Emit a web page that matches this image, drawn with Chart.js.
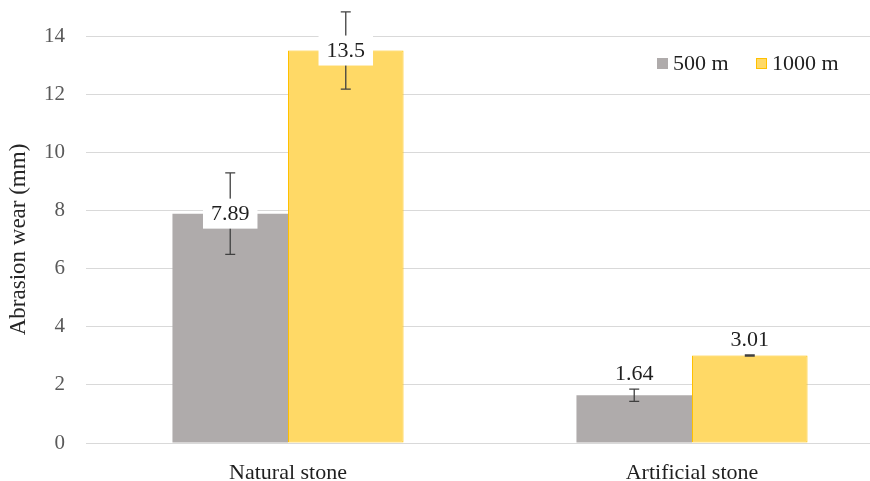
<!DOCTYPE html>
<html>
<head>
<meta charset="utf-8">
<script src="https://cdn.jsdelivr.net/npm/chart.js@4.4.1/dist/chart.umd.min.js"></script>
<style>
  html, body { margin: 0; padding: 0; background: #fff; overflow: hidden; }
  #wrap { width: 900px; height: 481px; }
</style>
</head>
<body>
<div id="wrap"><canvas id="chart" width="900" height="481"></canvas></div>
<script>
const categories = ['Natural stone', 'Artificial stone']
const seriesNames = ['500 m', '1000 m']
const wear500 = [7.89, 1.64]
const wear1000 = [13.5, 3.01]
const err500 = [1.40, 0.21]
const err1000 = [1.33, 0.02]
const yTicks = [0, 2, 4, 6, 8, 10, 12, 14]

const serif = "'Liberation Serif', 'Times New Roman', serif"
const errors = [err500, err1000]

// error bars + value labels, drawn on top of the bars
const extrasPlugin = {
  id: 'extras',
  afterDatasetsDraw(chart) {
    const ctx = chart.ctx
    const y = chart.scales.y
    ctx.save()
    chart.data.datasets.forEach((ds, di) => {
      const meta = chart.getDatasetMeta(di)
      meta.data.forEach((bar, i) => {
        const v = ds.data[i]
        const e = errors[di][i]
        const x = bar.x
        const yTop = y.getPixelForValue(v + e)
        const yBot = y.getPixelForValue(v - e)
        ctx.strokeStyle = '#404040'
        ctx.lineWidth = 1.3
        ctx.beginPath()
        ctx.moveTo(x, yTop); ctx.lineTo(x, yBot)
        ctx.moveTo(x - 5, yTop); ctx.lineTo(x + 5, yTop)
        ctx.moveTo(x - 5, yBot); ctx.lineTo(x + 5, yBot)
        ctx.stroke()
      })
    })
    chart.data.datasets.forEach((ds, di) => {
      const meta = chart.getDatasetMeta(di)
      meta.data.forEach((bar, i) => {
        const v = ds.data[i]
        const e = errors[di][i]
        const txt = String(v)
        ctx.font = '22px ' + serif
        let cy
        if (i === 0) {
          cy = y.getPixelForValue(v)
          const w = ctx.measureText(txt).width + 16
          ctx.fillStyle = '#ffffff'
          ctx.fillRect(bar.x - w / 2, cy - 15, w, 30)
        } else {
          cy = y.getPixelForValue(v + e) - 16
        }
        ctx.fillStyle = '#1f1f1f'
        ctx.textAlign = 'center'
        ctx.textBaseline = 'middle'
        ctx.fillText(txt, bar.x, cy + 1)
      })
    })
    // legend
    const items = [
      { x: 657, fill: '#AFABAB', stroke: '#AFABAB' },
      { x: 756, fill: '#FFD966', stroke: '#FFC000' }
    ]
    ctx.font = '22px ' + serif
    ctx.textAlign = 'left'
    ctx.textBaseline = 'middle'
    items.forEach((it, k) => {
      ctx.fillStyle = it.fill
      ctx.fillRect(it.x, 58, 11, 11)
      ctx.strokeStyle = it.stroke
      ctx.lineWidth = 1
      ctx.strokeRect(it.x + 0.5, 58.5, 10, 10)
      ctx.fillStyle = '#1f1f1f'
      ctx.fillText(seriesNames[k], it.x + 16, 64)
    })
    ctx.restore()
  }
}

new Chart(document.getElementById('chart'), {
  type: 'bar',
  data: {
    labels: categories,
    datasets: [
      {
        label: seriesNames[0],
        data: wear500,
        backgroundColor: '#AFABAB',
        borderColor: '#AFABAB',
        borderWidth: 0
      },
      {
        label: seriesNames[1],
        data: wear1000,
        backgroundColor: '#FFD966',
        borderColor: '#FFC000',
        borderWidth: 1,
        borderSkipped: false
      }
    ]
  },
  options: {
    responsive: false,
    animation: false,
    devicePixelRatio: 1,
    layout: { padding: { top: 36, right: 6, left: 0, bottom: 0 } },
    datasets: { bar: { categoryPercentage: 0.572, barPercentage: 1 } },
    plugins: {
      legend: { display: false },
      tooltip: { enabled: false }
    },
    scales: {
      x: {
        grid: { display: false },
        border: { display: false },
        ticks: { color: '#1f1f1f', font: { family: serif, size: 22 }, padding: 9 },
        afterFit(scale) { scale.height = 38 }
      },
      y: {
        min: 0,
        max: 14,
        afterBuildTicks(scale) { scale.ticks = yTicks.map(v => ({ value: v })) },
        grid: { color: '#D9D9D9', lineWidth: 1, drawTicks: false },
        border: { display: false },
        ticks: { color: '#595959', font: { family: serif, size: 21 }, padding: 21 },
        title: {
          display: true,
          text: 'Abrasion wear (mm)',
          color: '#262626',
          font: { family: serif, size: 23 },
          padding: { top: 5, bottom: 0 }
        },
        afterFit(scale) { scale.width = 86 }
      }
    }
  },
  plugins: [extrasPlugin]
})
</script>
</body>
</html>
